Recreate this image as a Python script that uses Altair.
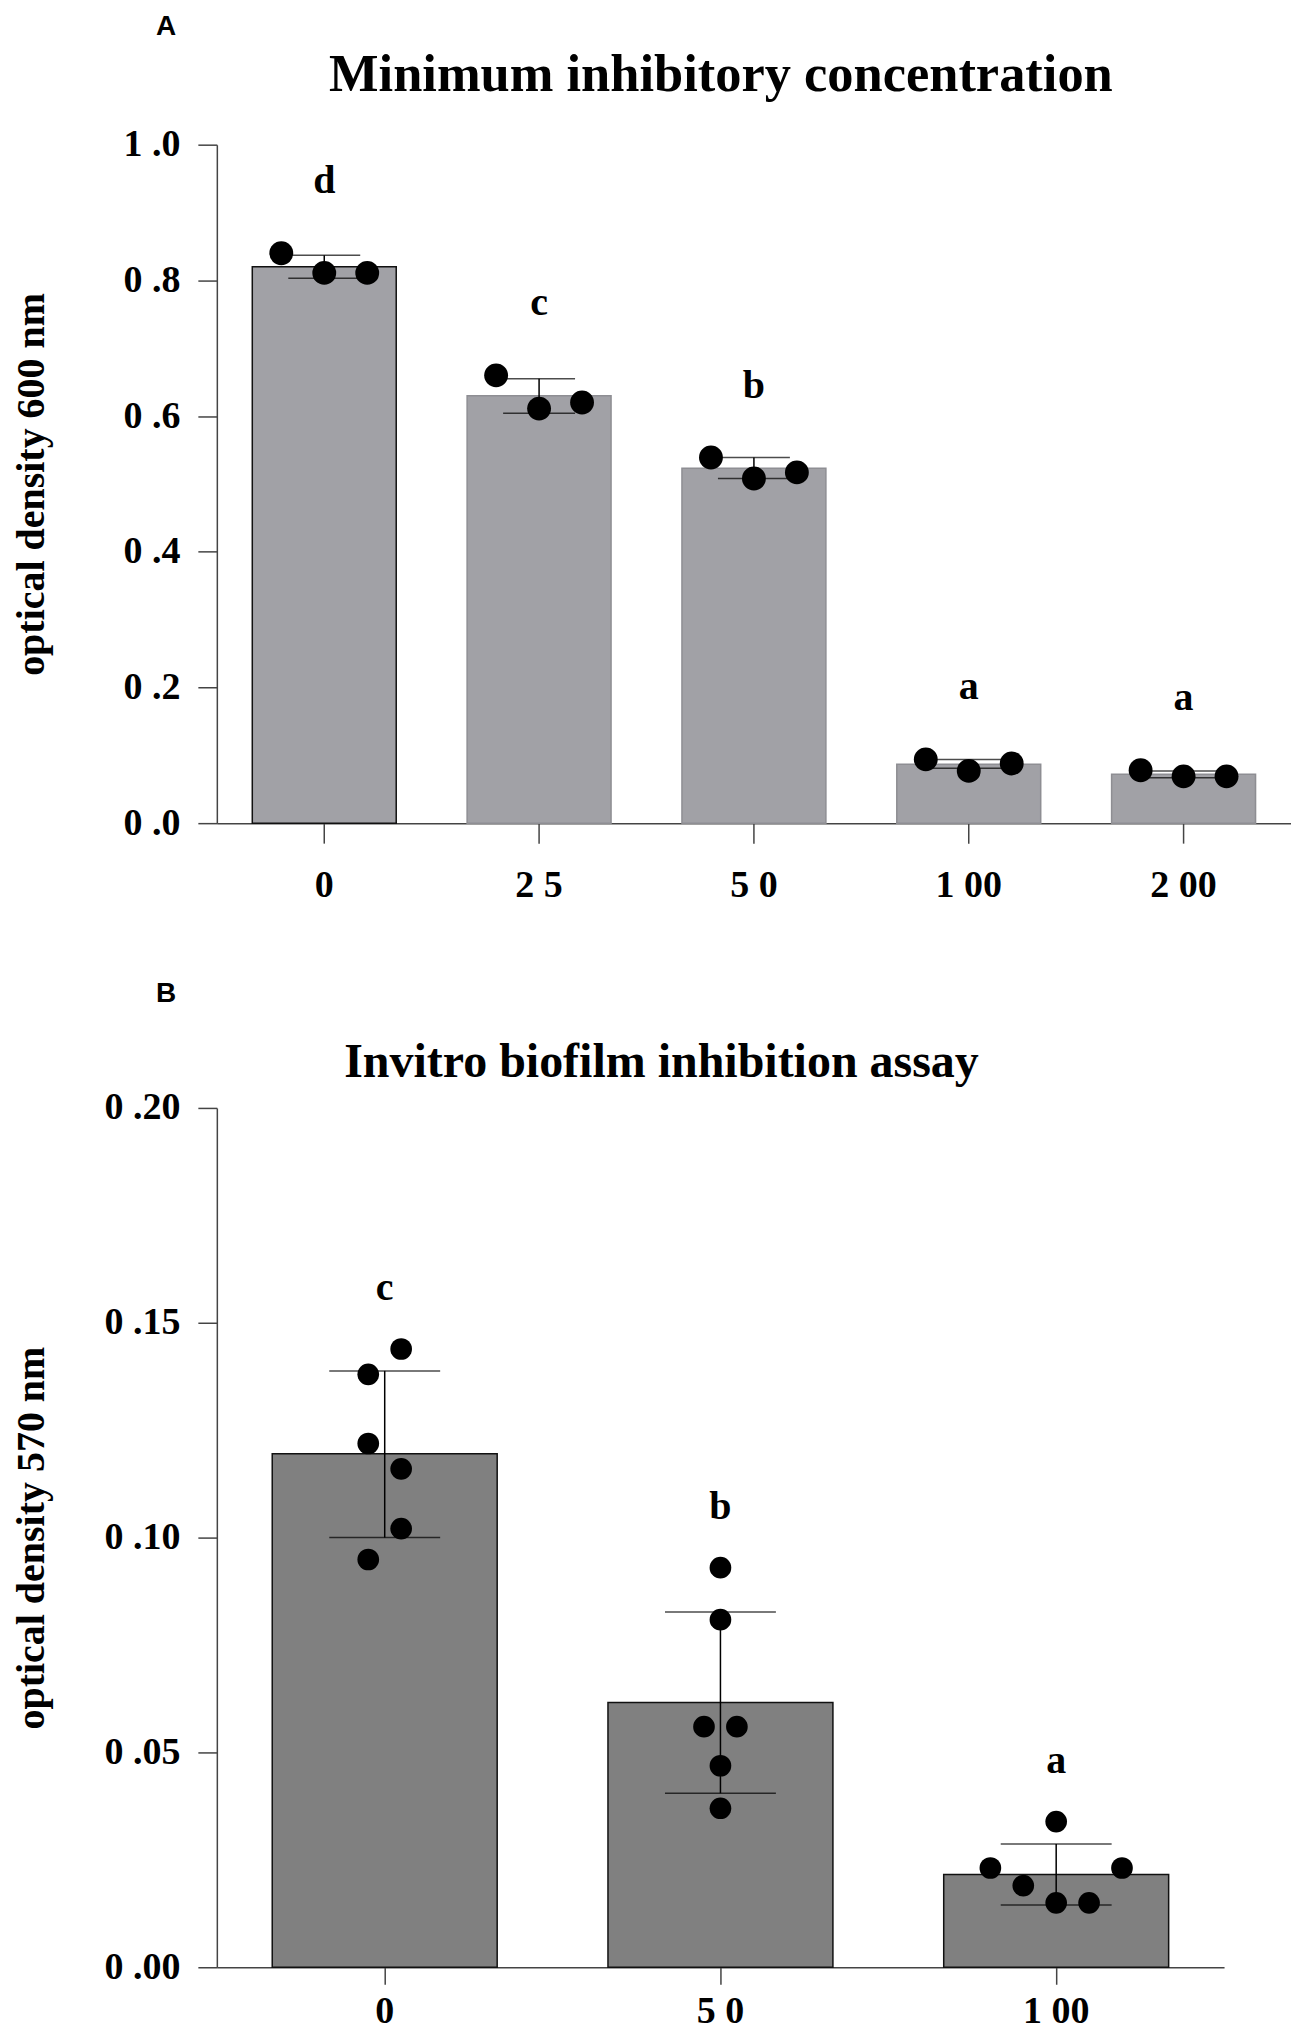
import altair as alt
import pandas as pd

# ---------------- Panel A data ----------------
A_conc = ["0", "25", "50", "100", "200"]
A_mean = [0.820, 0.630, 0.523, 0.087, 0.072]
A_lo = [0.803, 0.604, 0.508, 0.081, 0.067]
A_hi = [0.837, 0.655, 0.539, 0.094, 0.077]
A_letters = ["d", "c", "b", "a", "a"]
A_reps = [
    [0.840, 0.811, 0.811],
    [0.660, 0.611, 0.620],
    [0.539, 0.508, 0.517],
    [0.094, 0.077, 0.088],
    [0.078, 0.069, 0.069],
]
A_slots = [-1, 0, 1]          # dodge slot of each replicate dot

# ---------------- Panel B data ----------------
B_conc = ["0", "50", "100"]
B_mean = [0.1195, 0.0616, 0.0216]
B_lo = [0.1000, 0.0405, 0.0145]
B_hi = [0.1388, 0.0827, 0.0287]
B_letters = ["c", "b", "a"]
B_reps = [
    [0.1439, 0.1380, 0.1219, 0.1160, 0.1021, 0.0949],
    [0.0930, 0.0809, 0.0560, 0.0560, 0.0469, 0.0370],
    [0.0339, 0.0231, 0.0231, 0.0190, 0.0150, 0.0150],
]
B_slots = [
    [1, -1, -1, 1, 1, -1],
    [0, 0, -1, 1, 0, 0],
    [0, -4, 4, -2, 0, 2],
]

SERIF = "Liberation Serif"
SANS = "Liberation Sans"
AXIS_GREY = "#444444"


def build_panel(conc, mean, lo, hi, letters, reps, slots, *, width, height,
                ydomain, yvalues, yfmt, ytitle, title, title_size, title_dx,
                title_offset, fill, stroke_first, stroke_rest, title_pad,
                x_tick, x_lab_pad, slot_step, point_size, cap_size,
                letter_dy):
    summ = pd.DataFrame({
        "conc": conc, "mean": mean, "lo": lo, "hi": hi, "letter": letters,
        "top": [max(r) for r in reps],
    })
    rows = []
    for i, (c, vals, sl) in enumerate(zip(conc, reps, slots)):
        for v, s in zip(vals, sl):
            rows.append({"conc": c, "val": v, "pos": i + s * slot_step})
    pts = pd.DataFrame(rows)

    xscale = alt.Scale(paddingInner=0.33, paddingOuter=0.165)
    xaxis = alt.Axis(
        title=None, labelAngle=0, labelFont=SERIF, labelFontSize=38,
        labelFontWeight="bold", labelColor="black", labelPadding=x_lab_pad,
        tickSize=x_tick, tickColor=AXIS_GREY, tickWidth=1.5,
        domainColor=AXIS_GREY, domainWidth=1.5,
        labelExpr="length(datum.label) > 1 ? slice(datum.label, 0, 1) + ' ' + slice(datum.label, 1) : datum.label",
    )
    yscale = alt.Scale(domain=ydomain, nice=False, zero=True)
    yaxis = alt.Axis(
        title=ytitle, values=yvalues, grid=False,
        labelExpr=f"replace(format(datum.value, '{yfmt}'), '.', ' .')",
        labelFont=SERIF, labelFontSize=38, labelFontWeight="bold",
        labelColor="black", labelPadding=18, tickSize=19,
        tickColor=AXIS_GREY, tickWidth=1.5, domainColor=AXIS_GREY,
        domainWidth=1.5,
        titleFont=SERIF, titleFontSize=40, titleFontWeight="bold",
        titleColor="black", titlePadding=title_pad,
    )
    X = alt.X("conc:N", sort=conc, scale=xscale, axis=xaxis)

    bars = alt.Chart(summ).mark_bar(strokeWidth=1.5).encode(
        x=X,
        y=alt.Y("mean:Q", scale=yscale, axis=yaxis),
        color=alt.value(fill),
        stroke=alt.condition(alt.datum.conc == conc[0],
                             alt.value(stroke_first), alt.value(stroke_rest)),
    )
    err = alt.Chart(summ).mark_rule(color="black", strokeWidth=1.5).encode(
        x=alt.X("conc:N", sort=conc), y="lo:Q", y2="hi:Q")
    cap_lo = alt.Chart(summ).mark_tick(color="black", size=cap_size,
                                       thickness=1.5).encode(
        x=alt.X("conc:N", sort=conc), y="lo:Q")
    cap_hi = alt.Chart(summ).mark_tick(color="black", size=cap_size,
                                       thickness=1.5).encode(
        x=alt.X("conc:N", sort=conc), y="hi:Q")
    lett = alt.Chart(summ).mark_text(
        font=SERIF, fontSize=40, fontWeight="bold", color="black",
        baseline="alphabetic", dy=letter_dy).encode(
        x=alt.X("conc:N", sort=conc), y="top:Q", text="letter:N")

    base = alt.layer(bars, err, cap_lo, cap_hi, lett)

    n = len(conc)
    dots = alt.Chart(pts).mark_circle(color="black", opacity=1,
                                      size=point_size).encode(
        x=alt.X("pos:Q", scale=alt.Scale(domain=[-0.5, n - 0.5], nice=False,
                                         zero=False), axis=None),
        y="val:Q",
    )

    return alt.layer(base, dots).resolve_scale(x="independent").properties(
        width=width, height=height,
        title=alt.TitleParams(title, font=SERIF, fontSize=title_size,
                              fontWeight="bold", color="black",
                              anchor="middle", frame="group", dx=title_dx,
                              offset=title_offset),
    )


chartA = build_panel(
    A_conc, A_mean, A_lo, A_hi, A_letters, A_reps,
    [A_slots] * len(A_conc),
    width=1075, height=679, ydomain=[0, 1.0],
    yvalues=[0, 0.2, 0.4, 0.6, 0.8, 1.0], yfmt=".1f",
    ytitle="optical density 600 nm",
    title="Minimum inhibitory concentration", title_size=52.5, title_dx=-33,
    title_offset=23, fill="#a1a1a6", stroke_first="#111111",
    stroke_rest="#8e8e93", title_pad=71, x_tick=20, x_lab_pad=23,
    slot_step=0.2, point_size=570, cap_size=72, letter_dy=-60,
)

chartB = build_panel(
    B_conc, B_mean, B_lo, B_hi, B_letters, B_reps, B_slots,
    width=1008, height=860, ydomain=[0, 0.2],
    yvalues=[0, 0.05, 0.10, 0.15, 0.20], yfmt=".2f",
    ytitle="optical density 570 nm",
    title="Invitro biofilm inhibition assay", title_size=48, title_dx=-59,
    title_offset=2, fill="#808080", stroke_first="#111111",
    stroke_rest="#111111", title_pad=52, x_tick=17, x_lab_pad=8,
    slot_step=0.049, point_size=470, cap_size=111, letter_dy=-49,
)

panelA = alt.vconcat(chartA, title=alt.TitleParams(
    "A", font=SANS, fontSize=28, fontWeight="bold", color="black",
    anchor="start", dx=144, offset=8))
panelB = alt.vconcat(chartB, title=alt.TitleParams(
    "B", font=SANS, fontSize=28, fontWeight="bold", color="black",
    anchor="start", dx=144, offset=31))

chart = alt.vconcat(panelA, panelB, spacing=76).resolve_scale(
    x="independent", y="independent"
).properties(
    padding={"left": 4, "top": 4, "right": 0, "bottom": 0}
).configure_view(stroke=None)

chart.save("out.html", embed_options={"renderer": "svg", "actions": False})
